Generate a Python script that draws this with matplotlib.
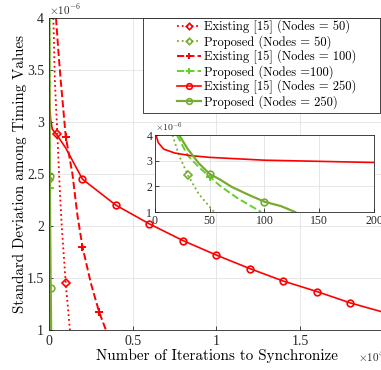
import matplotlib
matplotlib.use("Agg")
import matplotlib.pyplot as plt
from matplotlib.patches import Rectangle
from matplotlib.ticker import FuncFormatter

# x: iterations, y: standard deviation in units of 1e-6
ex50_x = [260, 350, 500, 630, 760, 1000, 1250]
ex50_y = [4.0, 3.4, 2.88, 2.4, 2.0, 1.45, 1.0]
ex50_marks = [2, 5]

pr50_x = [16, 22, 30, 40, 54]
pr50_y = [4.0, 3.2, 2.44, 1.7, 1.0]
pr50_marks = [2]

ex100_x = [420, 550, 700, 1000, 1400, 1700, 2000, 2500, 3000, 3400]
ex100_y = [4.0, 3.7, 3.4, 2.86, 2.5, 2.1, 1.8, 1.45, 1.17, 1.0]
ex100_marks = [3, 6, 8]

pr100_x = [20, 30, 40, 50, 60, 75, 97]
pr100_y = [4.0, 3.2, 2.75, 2.37, 2.0, 1.55, 1.0]
pr100_marks = [3]

ex250_x = [1, 3, 8, 18, 32, 50, 100, 200, 500, 830, 1000, 2000, 4000, 6000,
           8000, 10000, 12000, 14000, 16000, 18000, 20000]
ex250_y = [4.0, 3.7, 3.45, 3.3, 3.2, 3.13, 3.02, 2.93, 2.87, 2.79, 2.75, 2.45,
           2.2, 2.02, 1.86, 1.72, 1.59, 1.47, 1.37, 1.26, 1.17]
ex250_marks = list(range(11, 20))

pr250_x = [22, 30, 40, 50, 60, 70, 85, 100, 115, 128]
pr250_y = [4.0, 3.45, 2.9, 2.48, 2.25, 1.98, 1.68, 1.4, 1.23, 1.0]
pr250_marks = [3, 7]

labels = ["Existing [15] (Nodes = 50)",
          "Proposed (Nodes = 50)",
          "Existing [15] (Nodes = 100)",
          "Proposed (Nodes =100)",
          "Existing [15] (Nodes = 250)",
          "Proposed (Nodes = 250)"]

red = "#ff0000"
green = "#77ac30"
lgreen = "#5fd327"

plt.rcParams["font.family"] = "Liberation Serif"
plt.rcParams["mathtext.fontset"] = "cm"
plt.rcParams["axes.linewidth"] = 0.6
plt.rcParams["xtick.direction"] = "in"
plt.rcParams["ytick.direction"] = "in"


def draw_curves(ax, ms):
    hs = []
    hs += ax.plot(ex50_x, ex50_y, ":", color=red, lw=1.3, marker="D", ms=ms * 0.8,
                  mfc="none", mew=1.2, markevery=ex50_marks)
    hs += ax.plot(pr50_x, pr50_y, ":", color=green, lw=1.3, marker="D", ms=ms * 0.8,
                  mfc="none", mew=1.2, markevery=pr50_marks)
    hs += ax.plot(ex100_x, ex100_y, "--", color=red, lw=1.4, marker="+", ms=ms * 1.1,
                  mew=1.4, markevery=ex100_marks)
    hs += ax.plot(pr100_x, pr100_y, "--", color=lgreen, lw=1.4, marker="+", ms=ms * 1.1,
                  mew=1.4, markevery=pr100_marks)
    hs += ax.plot(ex250_x, ex250_y, "-", color=red, lw=1.2, marker="o", ms=ms,
                  mfc="none", mew=1.2, markevery=ex250_marks)
    hs += ax.plot(pr250_x, pr250_y, "-", color=green, lw=1.6, marker="o", ms=ms,
                  mfc="none", mew=1.2, markevery=pr250_marks)
    return hs


def style_axes(ax):
    ax.grid(True, color="#e3e3e3", lw=0.6)
    ax.set_axisbelow(True)
    for s in ax.spines.values():
        s.set_color("#262626")
    ax.tick_params(colors="#262626", length=3, width=0.6)


fig = plt.figure(figsize=(3.81, 3.70), dpi=100)
ax = fig.add_axes([0.1286, 0.1081, 0.879, 0.8432])
handles = draw_curves(ax, 4.8)
style_axes(ax)
ax.set_xlim(0, 20000)
ax.set_ylim(1, 4)
ax.set_xticks([0, 5000, 10000, 15000, 20000])
ax.set_yticks([1, 1.5, 2, 2.5, 3, 3.5, 4])
ax.xaxis.set_major_formatter(FuncFormatter(lambda v, p: "%g" % (v / 1e4)))
ax.yaxis.set_major_formatter(FuncFormatter(lambda v, p: "%g" % v))
ax.tick_params(labelsize=10)
ax.set_xlabel("Number of Iterations to Synchronize", family="cmr10", fontsize=10.9, labelpad=1)
ax.set_ylabel("Standard Deviation among Timing Values", family="cmr10", fontsize=10.8, labelpad=0)
ax.text(0.0, 1.003, r"$\times10^{-6}$", transform=ax.transAxes, ha="left", va="bottom",
        fontsize=8, color="#262626")
ax.text(1.0, -0.085, r"$\times10^{4}$", transform=ax.transAxes, ha="right", va="center",
        fontsize=8, color="#262626")

# legend box (MATLAB style, wide left padding)
box = Rectangle((143 / 381, 1 - 113 / 370), 237 / 381, 95 / 370, transform=fig.transFigure,
                facecolor="white", edgecolor="#262626", lw=0.6, zorder=4, clip_on=False)
ax.add_patch(box)
leg = ax.legend(handles, labels, loc="upper left", bbox_to_anchor=(177 / 381, 1 - 20 / 370),
                bbox_transform=fig.transFigure, prop={"family": "cmr10", "size": 9.0},
                frameon=False, handlelength=1.95, labelspacing=0.08,
                borderpad=0, handletextpad=0.2, borderaxespad=0, markerscale=0.85)
leg.set_zorder(5)

ins = fig.add_axes([0.4068, 0.427, 0.5748, 0.208])
draw_curves(ins, 4.8)
style_axes(ins)
ins.set_xlim(0, 200)
ins.set_ylim(1, 4)
ins.set_xticks([0, 50, 100, 150, 200])
ins.set_yticks([1, 2, 3, 4])
ins.tick_params(labelsize=8.5, pad=2)
ins.text(0.0, 1.01, r"$\times10^{-6}$", transform=ins.transAxes, ha="left", va="bottom",
         fontsize=7, color="#262626")

fig.savefig("out.png", dpi=100)
